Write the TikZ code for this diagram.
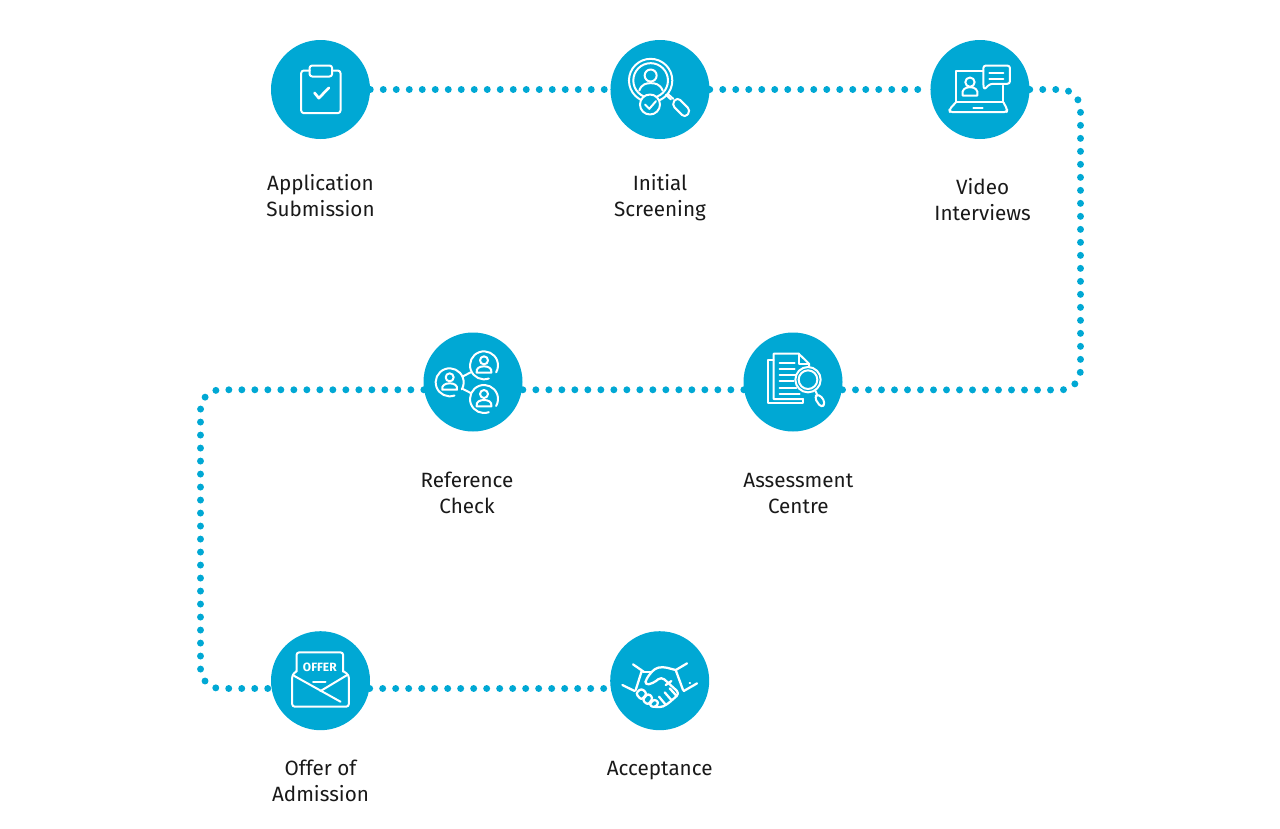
\documentclass[tikz,border=0pt]{standalone}
\usepackage{fontspec}
\setmainfont{Fira Sans}
\definecolor{stepblue}{HTML}{00A8D4}
\begin{document}
\begin{tikzpicture}[x=0.75pt, y=-0.75pt,
    main/.style = {circle, fill=stepblue, inner sep=0pt, minimum size=74.25pt},
    caption/.style = {align=center, font=\fontsize{15.5}{19.5}\selectfont, text=black!90},
    dots/.style = {draw=stepblue, line width=5.2pt, line cap=round, dash pattern=on 0pt off 9.75pt, rounded corners=15pt},
    icon/.style = {draw=white, line width=1.5pt, line join=round, line cap=round},
    iconat/.style = {shift={(#1.center)}, x=0.25pt, y=-0.25pt, shift={(-180,-177)}}]
    \useasboundingbox (0,0) rectangle (1280,828);

    \node[main] (appl) at (320.5,89.5) {};
    \node[main] (screen) [right of=appl, node distance=254.6pt] {};
    \node[main] (video) [right of=screen, node distance=240pt] {};
    \node[main] (assess) at (793,382) {};
    \node[main] (refer) [left of=assess, node distance=240pt] {};
    \node[main] (offer) [below of=appl, node distance=443.4pt] {};
    \node[main] (accept) [right of=offer, node distance=254.4pt] {};

    %captions
    \node[caption] (appllabel) [below of=appl, node distance=79.9pt] {Application\\Submission};
    \node[caption] (screenlabel) [below of=screen, node distance=81.4pt] {Initial\\Screening};
    \node[caption] (videolabel) [below of=video, node distance=82.9pt, xshift=2pt] {Video\\Interviews};
    \node[caption] (assesslabel) [below of=assess, node distance=83.25pt, xshift=4pt] {Assessment\\Centre};
    \node[caption] (referlabel) [below of=refer, node distance=83.25pt, xshift=-4.5pt] {Reference\\Check};
    \node[caption] (offerlabel) [below of=offer, node distance=75pt] {Offer of\\Admission};
    \node[caption] (acceptlabel) [below of=accept, node distance=67.5pt] {Acceptance};

    %connectors
    \coordinate (rightbend) at (1080.5,390);
    \coordinate (leftbend) at (200.5,540);
    \draw[dots] (appl) -- (screen);
    \draw[dots] (screen) -- (video);
    \draw[dots] (video.east) -| (rightbend) -- (assess.-9);
    \draw[dots] (assess.189) -- (refer.-9);
    \draw[dots] (refer.189) -| (leftbend) |- (offer.-9);
    \draw[dots] (offer.-9) -- (accept.189);

    %clipboard
    \begin{scope}[iconat=appl, icon]
        \draw[rounded corners=2pt] (147,120) -- (122,120) -- (122,248) -- (240,248) -- (240,120) -- (215,120);
        \draw[rounded corners=2pt] (147,105) rectangle (215,138);
        \draw[line width=2pt] (162,187) -- (175,203) -- (205,172);
    \end{scope}

    %magnifier with person
    \begin{scope}[iconat=screen, icon]
        \draw (152,150) circle[radius=65];
        \draw (152,150) circle[radius=52];
        \draw (152,135) circle[radius=18];
        \draw (118,180) .. controls (125,160) and (140,158) .. (152,158) .. controls (165,158) and (180,160) .. (188,180);
        \draw[fill=stepblue] (150,222) circle[radius=30];
        \draw (135,222) -- (148,235) -- (168,212);
        \draw (198,193) -- (213,207);
        \draw (203,190) -- (220,205);
        \draw[rounded corners=3pt] (232,200) -- (272,240) -- (255,262) -- (215,222) -- cycle;
    \end{scope}

    %laptop and speech bubble
    \begin{scope}[iconat=video, icon]
        \draw (190,122) -- (108,122) -- (108,215) -- (250,215) -- (250,165);
        \draw[rounded corners=2pt] (108,215) -- (88,237) -- (90,245) -- (260,245) -- (262,237) -- (250,215);
        \draw (160,233) -- (188,233);
        \draw (150,155) circle[radius=14];
        \draw (128,195) .. controls (124,178) and (135,170) .. (150,170) .. controls (165,170) and (176,178) .. (172,195) -- cycle;
        \draw[rounded corners=2pt] (190,105) -- (270,105) -- (270,160) -- (210,160) -- (192,178) -- (190,160) -- cycle;
        \draw (208,128) -- (250,128);
        \draw (208,145) -- (250,145);
    \end{scope}

    %document and magnifier
    \begin{scope}[iconat=assess, icon]
        \draw (122,110) -- (105,110) -- (105,240) -- (210,240) -- (210,228);
        \draw (228,130) -- (228,122) -- (197,92) -- (122,92) -- (122,228) -- (210,228);
        \draw (197,92) -- (197,122) -- (228,122);
        \draw (140,120) -- (185,120);
        \draw (140,138) -- (185,138);
        \draw (140,155) -- (190,155);
        \draw (140,175) -- (182,175);
        \draw (140,195) -- (190,195);
        \draw (140,212) -- (200,212);
        \draw[fill=stepblue] (225,170) circle[radius=38];
        \draw (225,170) circle[radius=28];
        \draw (247,203) -- (252,214);
        \draw[rounded corners=3pt] (243,222) -- (258,212) -- (278,240) -- (265,255) -- cycle;
    \end{scope}

    %linked people
    \begin{scope}[iconat=refer, icon]
        \foreach \cx/\cy in {110/178, 213/127, 213/228} {
            \draw (\cx,\cy) ++(70:42) arc[start angle=70, end angle=390, radius=42];
            \draw (\cx,\cy-15) circle[radius=12];
            \draw (\cx-22,\cy+22) .. controls (\cx-25,\cy+8) and (\cx-12,\cy+3) .. (\cx,\cy+3) .. controls (\cx+12,\cy+3) and (\cx+25,\cy+8) .. (\cx+22,\cy+22) -- cycle;
        }
        \draw (150,160) -- (173,148);
        \draw (150,198) -- (173,210);
    \end{scope}

    %envelope
    \begin{scope}[iconat=offer, icon]
        \draw[rounded corners=2pt] (108,150) -- (108,92) -- (248,92) -- (248,150);
        \draw[rounded corners=2pt] (108,148) -- (95,160) -- (95,255) -- (265,255) -- (265,160) -- (248,148);
        \draw (100,162) -- (240,240);
        \draw (260,160) -- (180,208);
        \draw (158,180) -- (195,180);
        \node[text=white, font=\bfseries\fontsize{9}{9}\selectfont] (offertext) at (178,136) {OFFER};
    \end{scope}

    %handshake
    \begin{scope}[iconat=accept, icon, line width=1.7pt]
        \draw (68,190) -- (105,208);
        \draw (100,128) -- (132,150);
        \draw (126,148) -- (108,205);
        \draw (262,125) -- (228,145);
        \draw (292,185) -- (252,208);
        \draw (228,145) -- (250,205);
        \draw[rounded corners=3pt] (228,145) -- (190,135) -- (165,140) -- (140,170) -- (135,190) -- (160,185) -- (185,165) -- (240,215) -- (200,250) -- (180,258) -- (165,255);
        \draw (130,150) -- (155,150);
        \draw (215,178) -- (198,190);
        \draw[rounded corners=2pt] (108,215) -- (125,200) -- (142,215) -- (125,235) -- cycle;
        \draw[rounded corners=2pt] (128,235) -- (145,215) -- (160,228) -- (145,250) -- cycle;
        \draw[rounded corners=2pt] (148,250) -- (163,232) -- (178,242) -- (165,258) -- cycle;
        \draw (197,248) -- (178,225);
        \draw (215,235) -- (195,212);
        \draw (230,222) -- (210,200);
        \draw (270,183) -- (271,183);
    \end{scope}
\end{tikzpicture}
\end{document}
